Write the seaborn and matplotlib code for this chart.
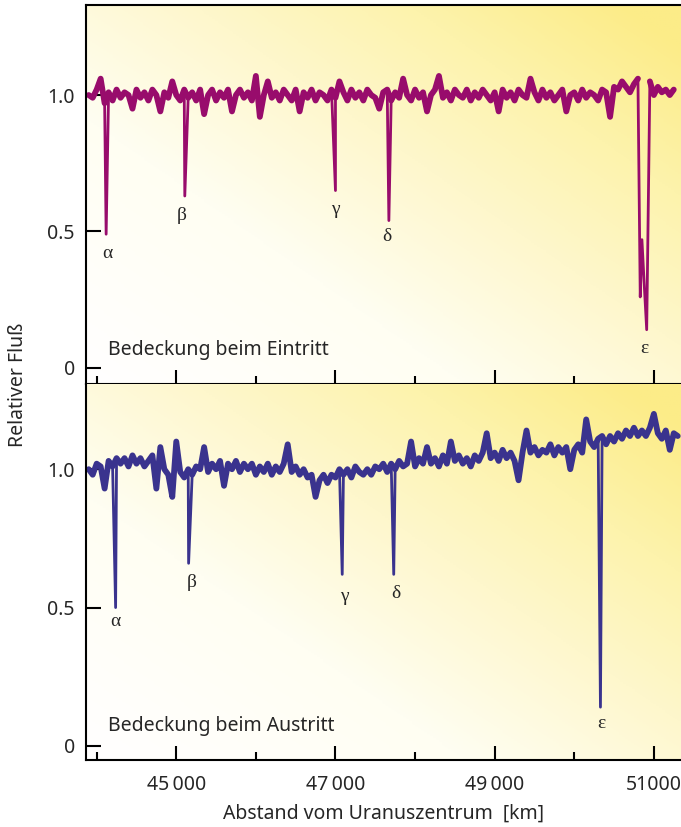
import numpy as np
import pandas as pd
import seaborn as sns
import matplotlib.pyplot as plt
from matplotlib.colors import LinearSegmentedColormap

# light curve sampling grid (km from Uranus centre)
grid_start_km = 43900
grid_step_km = 50

# relative flux, ingress
eintritt_flux = [
    1.00, 0.99, 1.02, 1.06, 0.97, 1.01, 0.98, 1.02, 0.99, 1.01,
    1.00, 0.95, 1.02, 0.99, 1.01, 0.98, 1.02, 1.00, 0.94, 1.01,
    0.99, 1.05, 1.00, 0.98, 1.02, 0.99, 1.01, 0.98, 1.02, 0.93,
    1.00, 1.02, 0.98, 1.01, 0.99, 1.02, 0.94, 1.00, 1.02, 0.99,
    1.01, 0.98, 1.07, 0.92, 1.00, 1.05, 0.99, 1.01, 0.98, 1.02,
    1.00, 0.98, 1.02, 0.94, 1.01, 0.99, 1.02, 0.98, 1.01, 1.00,
    0.98, 1.02, 0.99, 1.05, 1.01, 0.98, 1.02, 0.99, 1.01, 0.98,
    1.02, 1.00, 0.99, 0.95, 1.01, 1.02, 0.98, 1.01, 0.99, 1.06,
    1.00, 0.98, 1.02, 0.99, 1.01, 0.94, 1.00, 1.02, 1.07, 0.99,
    1.01, 0.98, 1.02, 1.00, 0.99, 1.02, 0.98, 1.01, 0.99, 1.02,
    1.00, 0.98, 1.01, 0.94, 1.02, 0.99, 1.01, 0.98, 1.02, 1.00,
    0.99, 1.06, 1.01, 0.98, 1.02, 0.99, 1.01, 0.98, 1.00, 1.02,
    0.94, 1.00, 1.01, 0.98, 1.02, 0.99, 1.01, 1.00, 0.98, 1.02,
    1.01, 0.92, 1.03, 1.02, 1.05, 1.03, 1.01, 1.04, 1.06, np.nan,
    np.nan, 1.05, 1.00, 1.03, 1.01, 1.02, 1.00, 1.02,
]

# relative flux, egress (lower trace)
austritt_flux = [
    1.00, 0.98, 1.02, 1.01, 0.93, 1.03, 1.01, 1.04, 1.02, 1.04,
    1.01, 1.05, 1.02, 1.04, 1.01, 1.03, 1.05, 0.93, 1.08, 1.00,
    0.98, 0.90, 1.10, 0.99, 0.97, 1.00, 0.98, 1.01, 1.00, 1.08,
    0.99, 1.02, 1.00, 1.03, 0.94, 1.02, 1.00, 1.03, 0.99, 1.02,
    1.00, 1.02, 0.98, 1.01, 0.99, 1.02, 0.98, 1.01, 0.99, 1.02,
    1.09, 0.99, 1.01, 0.98, 1.00, 0.97, 0.98, 0.90, 0.96, 0.98,
    0.95, 0.98, 0.97, 1.00, 0.98, 1.00, 0.97, 1.01, 0.99, 0.98,
    1.00, 0.98, 1.01, 1.00, 1.02, 0.99, 1.02, 1.00, 1.03, 1.01,
    1.02, 1.10, 1.01, 1.04, 1.02, 1.08, 1.02, 1.04, 1.01, 1.05,
    1.02, 1.10, 1.03, 1.05, 1.02, 1.04, 1.01, 1.05, 1.03, 1.06,
    1.13, 1.04, 1.06, 1.03, 1.07, 1.04, 1.06, 1.03, 0.96, 1.06,
    1.14, 1.06, 1.08, 1.05, 1.07, 1.06, 1.09, 1.05, 1.08, 1.06,
    1.08, 1.00, 1.07, 1.09, 1.06, 1.18, 1.10, 1.08, 1.11, 1.12,
    1.09, 1.12, 1.10, 1.13, 1.11, 1.14, 1.12, 1.15, 1.12, 1.14,
    1.12, 1.15, 1.20, 1.13, 1.11, 1.14, 1.07, 1.13, 1.12,
]

# ring occultation dips
eintritt_dip_km = [44119, 45107, 47000, 47671, 50829, 50850, 50880, 50910]
eintritt_dip_flux = [0.49, 0.63, 0.65, 0.54, 0.26, 0.47, 0.30, 0.14]
austritt_dip_km = [44238, 45155, 47085, 47732, 50329]
austritt_dip_flux = [0.50, 0.66, 0.62, 0.62, 0.14]

ring_names = ['α', 'β', 'γ', 'δ', 'ε']
eintritt_label_km = [44138, 45071, 47000, 47646, 50882]
eintritt_label_flux = [0.42, 0.56, 0.58, 0.48, 0.07]
austritt_label_km = [44238, 45190, 47110, 47756, 50342]
austritt_label_flux = [0.45, 0.59, 0.54, 0.55, 0.08]

x_ticks = [45000, 47000, 49000, 51000]
x_ticklabels = ['45\u2009000', '47\u2009000', '49\u2009000', '51000']
x_minor = [44000, 46000, 48000, 50000]
y_ticks = [0, 0.5, 1.0]
y_ticklabels = ['0', '0.5', '1.0']


def baseline(flux):
    # regular samples; a NaN marks a gap where the star is hidden
    km = grid_start_km + grid_step_km * np.arange(len(flux))
    df = pd.DataFrame({'km': km, 'flux': flux})
    df['segment'] = df['flux'].isna().cumsum()
    return df.dropna()


def full_trace(flux, dip_km, dip_flux):
    base = baseline(flux)[['km', 'flux']]
    dips = pd.DataFrame({'km': dip_km, 'flux': dip_flux})
    return pd.concat([base, dips]).sort_values('km')


sns.set_theme(style='ticks')
plt.rcParams['font.family'] = ['Noto Sans', 'DejaVu Sans']

bg_cmap = LinearSegmentedColormap.from_list(
    'bg', [(0, '#ffffff'), (0.35, '#fffef2'), (0.6, '#fef7cc'),
           (0.8, '#fdf3ac'), (1.0, '#fcec88')])
uu, vv = np.meshgrid(np.linspace(0, 1, 200), np.linspace(0, 1, 200))
bg = np.clip(0.55 * uu + 0.5 * vv, 0, 1)

fig = plt.figure(figsize=(6.81, 8.27), dpi=100)
ax_top = fig.add_axes([86 / 681, 1 - 384 / 827, 595 / 681, 379 / 827])
ax_bot = fig.add_axes([86 / 681, 1 - 760 / 827, 595 / 681, 376 / 827])

panels = [
    (ax_top, eintritt_flux, eintritt_dip_km, eintritt_dip_flux,
     '#980c6c', (-0.059, 1.33), 'Bedeckung beim Eintritt',
     eintritt_label_km, eintritt_label_flux),
    (ax_bot, austritt_flux, austritt_dip_km, austritt_dip_flux,
     '#3a338e', (-0.051, 1.308), 'Bedeckung beim Austritt',
     austritt_label_km, austritt_label_flux),
]

for ax, flux, dip_km, dip_flux, color, ylim, title, lab_km, lab_flux in panels:
    ax.imshow(bg, extent=[0, 1, 0, 1], transform=ax.transAxes, origin='lower',
              aspect='auto', cmap=bg_cmap, vmin=0, vmax=1, zorder=0)
    # thick noisy band, then the full curve with the narrow ring dips
    sns.lineplot(data=baseline(flux), x='km', y='flux', units='segment',
                 estimator=None, ax=ax, color=color, lw=4.2, zorder=2)
    sns.lineplot(data=full_trace(flux, dip_km, dip_flux), x='km', y='flux',
                 ax=ax, color=color, lw=2.0, estimator=None, sort=True,
                 zorder=2)
    ax.set_xlim(43866, 51341)
    ax.set_ylim(*ylim)
    ax.set_xlabel('')
    ax.set_ylabel('')

    for name, k, f in zip(ring_names, lab_km, lab_flux):
        ax.text(k, f, name, ha='center', va='center', fontsize=14,
                family=['Liberation Serif', 'DejaVu Serif'], zorder=3)
    ax.text(0.037, 0.09, title, transform=ax.transAxes, fontsize=14,
            ha='left', va='center', zorder=3)

    ax.set_xticks(x_ticks)
    ax.set_xticks(x_minor, minor=True)
    ax.set_yticks(y_ticks)
    ax.set_yticklabels(y_ticklabels)
    ax.tick_params(axis='x', which='major', direction='in', length=10,
                   width=1.5, color='black', pad=11, labelsize=14)
    ax.tick_params(axis='x', which='minor', direction='in', length=6,
                   width=1.5, color='black')
    ax.tick_params(axis='y', which='major', direction='in', length=11,
                   width=1.5, color='black', pad=8, labelsize=14)
    ax.spines['right'].set_visible(False)
    for side in ['left', 'top', 'bottom']:
        ax.spines[side].set_linewidth(1.5)
        ax.spines[side].set_color('black')

ax_top.tick_params(axis='x', labelbottom=False)
ax_bot.spines['top'].set_visible(False)
ax_bot.set_xticklabels(x_ticklabels)
ax_bot.set_xlabel('Abstand vom Uranuszentrum  [km]', fontsize=14, labelpad=6)

fig.text(0.026, 1 - 385 / 827, 'Relativer Fluß', rotation=90,
         ha='center', va='center', fontsize=14)

fig.savefig('out.png', dpi=100, facecolor='white')
